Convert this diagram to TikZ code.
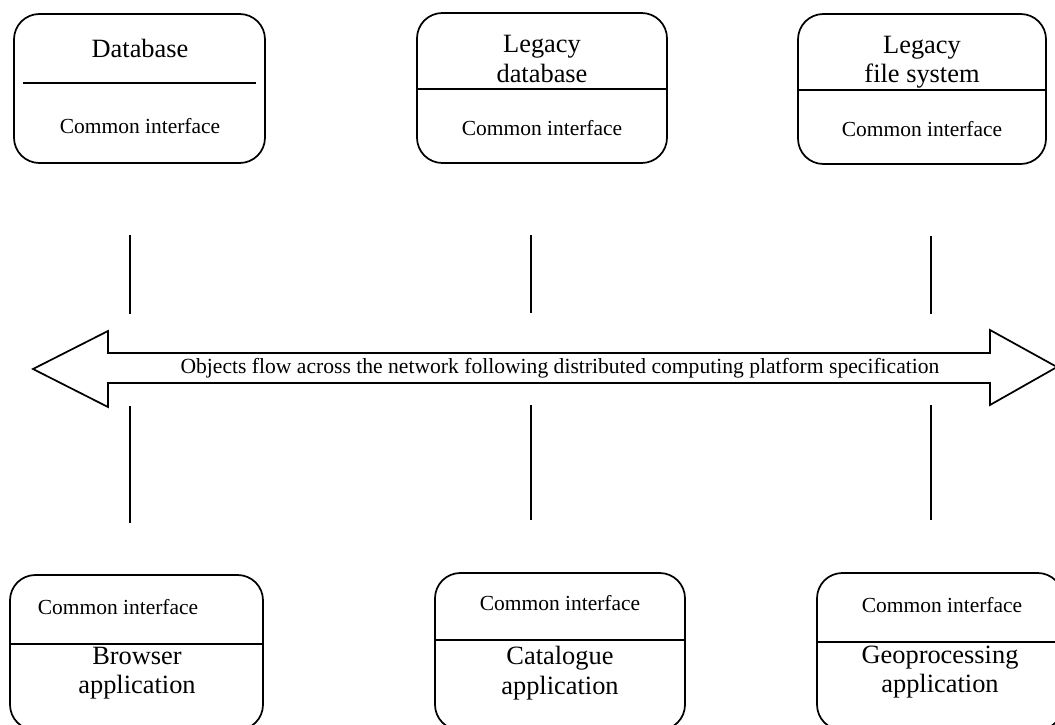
\documentclass[tikz,border=0pt]{standalone}
\usepackage{fontspec}
\setmainfont{Liberation Serif}
\begin{document}
\begin{tikzpicture}[x=0.75pt,y=-0.75pt,
  roundbox/.style={draw,line width=1.3pt,rounded corners=19pt,inner sep=0pt},
  sep/.style={line width=1.3pt},
  boxtitle/.style={inner sep=0pt,align=center,font=\fontsize{19.8}{22}\selectfont},
  iface/.style={inner sep=0pt,font=\fontsize{16.1}{18}\selectfont},
  link/.style={line width=1.3pt},
  flowarrow/.style={draw,line width=1.3pt,line join=miter}]
\useasboundingbox (0,0) rectangle (1055,724);
\clip (0,0) rectangle (1055,724);
% top boxes
\node[roundbox,minimum width=251*0.75pt,minimum height=149*0.75pt] (db) at (139.5,88.5) {};
\node[boxtitle] (dbt) at (140,48) {Database};
\draw[sep] (23,83) -- (256,83);
\node[iface] (dbi) at (140,126) {Common interface};

\node[roundbox,minimum width=250*0.75pt,minimum height=150*0.75pt] (ldb) at (542,88) {};
\node[boxtitle] (ldbt) at (542,59) {Legacy\\database};
\draw[sep] (ldb.west |- 0,89) -- (ldb.east |- 0,89);
\node[iface] (ldbi) at (542,128) {Common interface};

\node[roundbox,minimum width=248*0.75pt,minimum height=150*0.75pt] (lfs) at (922,89) {};
\node[boxtitle] (lfst) at (922,62) {Legacy\\file system};
\draw[sep] (lfs.west |- 0,90) -- (lfs.east |- 0,90);
\node[iface] (lfsi) at (922,129) {Common interface};

% bottom boxes
\node[roundbox,minimum width=253*0.75pt,minimum height=155*0.75pt] (br) at (136.5,652.5) {};
\node[iface] (bri) at (118,607) {Common interface};
\draw[sep] (br.west |- 0,644) -- (br.east |- 0,644);
\node[boxtitle] (brt) at (137,673) {Browser\\application};

\node[roundbox,minimum width=250*0.75pt,minimum height=157*0.75pt] (ca) at (560,651.5) {};
\node[iface] (cai) at (560,603) {Common interface};
\draw[sep] (ca.west |- 0,640) -- (ca.east |- 0,640);
\node[boxtitle] (cat) at (560,673) {Catalogue\\application};

\node[roundbox,minimum width=246*0.75pt,minimum height=157*0.75pt] (geo) at (940,651.5) {};
\node[iface] (geoi) at (942,605) {Common interface};
\draw[sep] (geo.west |- 0,642) -- (geo.east |- 0,642);
\node[boxtitle] (geot) at (940,672) {Geoprocessing\\application};

% double arrow
\draw[flowarrow] (33,369) -- (108,331) -- (108,353) -- (990,353) -- (990,330)
  -- (1057,367) -- (990,405) -- (990,383) -- (108,383) -- (108,407) -- cycle;
\node[inner sep=0pt,font=\fontsize{16.2}{18}\selectfont] (flow) at (560,368)
  {Objects flow across the network following distributed computing platform specification};

% vertical links
\coordinate (a1) at (130,235); \coordinate (a2) at (130,314);
\coordinate (a3) at (130,406); \coordinate (a4) at (130,523);
\coordinate (b1) at (531,235); \coordinate (b2) at (531,313);
\coordinate (b3) at (531,405); \coordinate (b4) at (531,520);
\coordinate (c1) at (931,236); \coordinate (c2) at (931,314);
\coordinate (c3) at (931,405); \coordinate (c4) at (931,520);
\draw[link] (a1) -- (a2); \draw[link] (a3) -- (a4);
\draw[link] (b1) -- (b2); \draw[link] (b3) -- (b4);
\draw[link] (c1) -- (c2); \draw[link] (c3) -- (c4);
\end{tikzpicture}
\end{document}
